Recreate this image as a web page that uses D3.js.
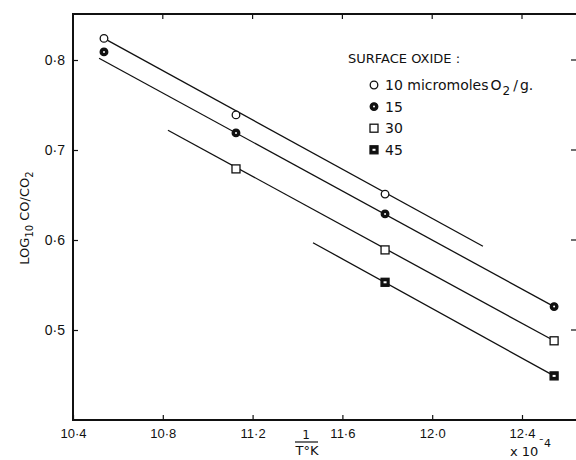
<!DOCTYPE html>
<html>
<head>
<meta charset="utf-8">
<script src="https://cdn.jsdelivr.net/npm/d3@7"></script>
<style>
  body { margin: 0; background: #fff; }
  svg { display: block; font-family: "DejaVu Sans", sans-serif; }
</style>
</head>
<body>
<svg id="chart" width="576" height="460"></svg>
<script>
// Surface oxide series (micromoles O2 / g) :
var oxide = ["10", "15", "30", "45"];
var legendText = ["10 micromoles", "15", "30", "45"];
var marker = ["circle-open", "circle-filled", "square-open", "square-filled"];

// 1/T (x 10^-4) of the measured points :
var invT = [10.538, 11.126, 11.790, 12.543];

// log10 CO/CO2 per series (null = no point) :
var log10 = [0.824, 0.739, 0.651, null];
var log15 = [0.809, 0.719, 0.629, 0.526];
var log30 = [null, 0.679, 0.589, 0.488];
var log45 = [null, null, 0.553, 0.449];
var values = [log10, log15, log30, log45];

// fitted lines, start and end :
var fitX0 = [10.538, 10.516, 10.823, 11.469];
var fitY0 = [0.824, 0.802, 0.722, 0.597];
var fitX1 = [12.226, 12.543, 12.543, 12.543];
var fitY1 = [0.593, 0.526, 0.488, 0.449];

var xTicks = [10.4, 10.8, 11.2, 11.6, 12.0, 12.4];
var yTicks = [0.8, 0.7, 0.6, 0.5];

var svg = d3.select("#chart");
var frameL = 73, frameT = 14, frameB = 420, frameR = 576;

var x = d3.scaleLinear().domain([10.4, 12.4]).range([73, 522]);
var y = d3.scaleLinear().domain([0.5, 0.8]).range([330, 60]);

var dot = function(v) { return d3.format(".1f")(v).replace(".", "\u00b7"); };
var ink = "#111";

// frame (left, top, bottom; right side runs off the page)
svg.append("path")
   .attr("d", "M" + frameR + "," + frameT + "H" + frameL + "V" + frameB + "H" + frameR)
   .attr("fill", "none")
   .attr("stroke", ink)
   .attr("stroke-width", 2);

// bottom axis
var xAxis = svg.append("g").attr("transform", "translate(0," + frameB + ")")
   .call(d3.axisBottom(x).tickValues(xTicks).tickSize(-5).tickPadding(9).tickFormat(dot));
xAxis.select(".domain").remove();
xAxis.selectAll("line").attr("stroke", ink).attr("stroke-width", 1.2);
xAxis.selectAll("text").attr("font-size", 13).attr("fill", ink);

// top ticks
svg.append("g").selectAll("line").data(xTicks.slice(1)).join("line")
   .attr("x1", function(d) { return x(d); }).attr("x2", function(d) { return x(d); })
   .attr("y1", frameT).attr("y2", frameT + 5)
   .attr("stroke", ink).attr("stroke-width", 1.2);

// left axis
var yAxis = svg.append("g").attr("transform", "translate(" + frameL + ",0)")
   .call(d3.axisLeft(y).tickValues(yTicks).tickSize(-5).tickPadding(8).tickFormat(dot));
yAxis.select(".domain").remove();
yAxis.selectAll("line").attr("stroke", ink).attr("stroke-width", 1.2);
yAxis.selectAll("text").attr("font-size", 14).attr("fill", ink);

// right-hand ticks
svg.append("g").selectAll("line").data(yTicks).join("line")
   .attr("x1", 571).attr("x2", 576)
   .attr("y1", function(d) { return y(d); }).attr("y2", function(d) { return y(d); })
   .attr("stroke", ink).attr("stroke-width", 1.2);

// y label
var yl = svg.append("text")
   .attr("transform", "translate(29,218) rotate(-90)")
   .attr("text-anchor", "middle")
   .attr("font-size", 13).attr("fill", ink);
yl.append("tspan").text("LOG");
yl.append("tspan").attr("font-size", 10).attr("dy", 4).text("10");
yl.append("tspan").attr("dy", -4).text(" CO/CO");
yl.append("tspan").attr("font-size", 10).attr("dy", 4).text("2");

// x label : 1 / T°K
svg.append("text").attr("x", 306).attr("y", 439).attr("text-anchor", "middle")
   .attr("font-size", 12).attr("fill", ink).text("1");
svg.append("line").attr("x1", 295).attr("x2", 318).attr("y1", 442).attr("y2", 442)
   .attr("stroke", ink).attr("stroke-width", 1.2);
svg.append("text").attr("x", 307).attr("y", 455).attr("text-anchor", "middle")
   .attr("font-size", 13).attr("fill", ink).text("T\u00b0K");

var sc = svg.append("text").attr("x", 510).attr("y", 456)
   .attr("font-size", 13).attr("fill", ink);
sc.append("tspan").text("x 10");
sc.append("tspan").attr("font-size", 11).attr("dy", -9).text("\u02c94");

// fitted lines
svg.append("g").selectAll("line").data(oxide).join("line")
   .attr("x1", function(d, i) { return x(fitX0[i]); })
   .attr("y1", function(d, i) { return y(fitY0[i]); })
   .attr("x2", function(d, i) { return x(fitX1[i]); })
   .attr("y2", function(d, i) { return y(fitY1[i]); })
   .attr("stroke", ink).attr("stroke-width", 1.3);

// marker drawing
function drawMarker(g, kind, cx, cy) {
  if (kind.indexOf("circle") === 0) {
    g.append("circle").attr("cx", cx).attr("cy", cy).attr("r", 3.8)
     .attr("fill", kind === "circle-filled" ? ink : "#fff")
     .attr("stroke", ink).attr("stroke-width", 1.3);
    if (kind === "circle-filled") {
      g.append("circle").attr("cx", cx).attr("cy", cy).attr("r", 1)
       .attr("fill", "#fff");
    }
  } else {
    g.append("rect").attr("x", cx - 4).attr("y", cy - 4).attr("width", 8).attr("height", 8)
     .attr("fill", kind === "square-filled" ? ink : "#fff")
     .attr("stroke", ink).attr("stroke-width", 1.3);
    if (kind === "square-filled") {
      g.append("rect").attr("x", cx - 1.5).attr("y", cy - 1).attr("width", 3).attr("height", 2)
       .attr("fill", "#fff");
    }
  }
}

var pts = svg.append("g");
values.forEach(function(vals, s) {
  vals.forEach(function(v, i) {
    if (v === null) return;
    drawMarker(pts, marker[s], x(invT[i]), y(v));
  });
});

// legend
var lg = svg.append("g");
lg.append("text").attr("x", 348).attr("y", 63)
  .attr("font-size", 13).attr("fill", ink).text("SURFACE  OXIDE  :");
oxide.forEach(function(d, i) {
  var ry = 85 + i * 21.6;
  drawMarker(lg, marker[i], 374, ry);
  var t = lg.append("text").attr("x", 385).attr("y", ry + 5)
    .attr("font-size", 14).attr("fill", ink).text(legendText[i]);
  if (i === 0) {
    t.append("tspan").attr("dx", 2).text("O");
    t.append("tspan").attr("font-size", 12).attr("dx", 1).attr("dy", 5).text("2");
    t.append("tspan").attr("dx", 3).attr("dy", -5).text("/");
    t.append("tspan").attr("dx", 2).text("g.");
  }
});
</script>
</body>
</html>
